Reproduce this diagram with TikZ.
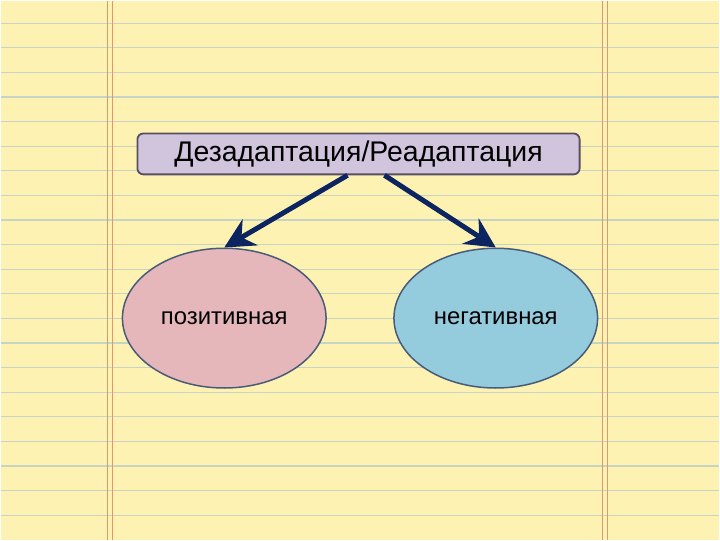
\documentclass[tikz,border=0pt]{standalone}
\usepackage{fontspec}
\setmainfont{Liberation Sans}
\usetikzlibrary{shapes.geometric}
\usetikzlibrary{arrows.meta}
\definecolor{paper}{RGB}{254,242,178}
\definecolor{ruling}{RGB}{198,212,198}
\definecolor{margin}{RGB}{220,152,112}
\definecolor{lavender}{RGB}{209,197,222}
\definecolor{boxedge}{RGB}{88,78,98}
\definecolor{rosy}{RGB}{229,183,187}
\definecolor{skyish}{RGB}{148,204,222}
\definecolor{ovaledge}{RGB}{72,92,122}
\definecolor{navy}{RGB}{12,36,96}
\tikzset{titlebox/.style={draw=boxedge, line width=1.8bp, fill=lavender, rounded corners=6bp, minimum width=443bp, minimum height=41bp, inner sep=0pt, font=\fontsize{28.6}{32}\selectfont},
	oval/.style={ellipse, draw=ovaledge, line width=1.5bp, minimum width=204bp, minimum height=140bp, inner sep=0pt, font=\fontsize{24}{28}\selectfont},
	link/.style={navy, line width=5bp, -{Stealth[length=30bp, width=30bp, inset=10bp]}}}

\begin{document}
\begin{tikzpicture}[x=1bp, y=-1bp]
	\fill[paper] (0,0) rectangle (720,540);
	\foreach \i in {0,...,20}
		\draw[ruling, line width=1.3bp] (0,22.5+24.65*\i) -- (720,22.5+24.65*\i);
	\draw[margin, line width=1.4bp] (107,0) -- (107,540);
	\draw[margin, line width=1.4bp] (112,0) -- (112,540);
	\draw[margin, line width=1.4bp] (603,0) -- (603,540);
	\draw[margin, line width=1.4bp] (608,0) -- (608,540);
	\node[titlebox] (title) at (358.5,153.5) {Дезадаптация/Реадаптация};
	\node[oval, fill=rosy] (pos) at (224,318) {позитивная};
	\node[oval, fill=skyish] (neg) at (496,318) {негативная};
	\draw[link] ([xshift=-11bp]title.south) -- (pos.north);
	\draw[link] ([xshift=26bp]title.south) -- (neg.north);
\end{tikzpicture}
\end{document}
